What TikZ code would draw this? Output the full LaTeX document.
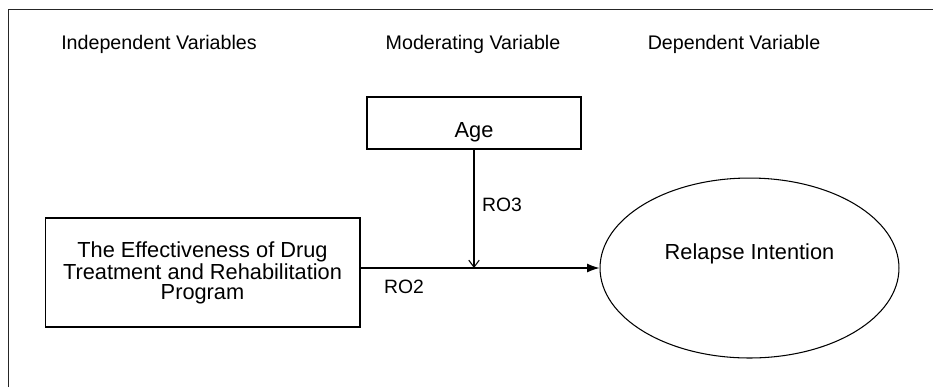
\documentclass[tikz,border=0pt]{standalone}
\usepackage{fontspec}
\setmainfont{Liberation Sans}
\usetikzlibrary{arrows.meta,shapes.geometric}

\begin{document}
\begin{tikzpicture}[x=0.02cm, y=-0.02cm,
		heading/.style={font=\fontsize{11.2}{13}\selectfont},
		rolabel/.style={font=\fontsize{11}{13}\selectfont},
		varbox/.style={draw, line width=0.6pt, font=\fontsize{12.4}{11.2}\selectfont, align=center, inner sep=0pt},
		link/.style={line width=0.6pt}]
			%%%%% START %%%%%
			
			\useasboundingbox (0, 0) rectangle (933, 387);
			\draw[line width=0.9pt, color=black!85] (8.5, 387) -- (8.5, 9.5) -- (933, 9.5);
			
			\node[heading] (indep) at (159, 44) {Independent Variables};
			\node[heading] (moder) at (473, 44) {Moderating Variable};
			\node[heading] (dep) at (734, 44) {Dependent Variable};
			
			\node[varbox, minimum width=4.28cm, minimum height=1.04cm, label={[yshift=-0.18cm, font=\fontsize{12.4}{11}\selectfont]center:Age}] (age) at (474, 123) {};
			\node[varbox, minimum width=6.3cm, minimum height=2.18cm] (program) at (202.5, 272.5) {The Effectiveness of Drug\\Treatment and Rehabilitation\\Program};
			\node[varbox, ellipse, minimum width=5.98cm, minimum height=3.6cm, label={[yshift=0.28cm, font=\fontsize{12.4}{11}\selectfont]center:Relapse Intention}] (relapse) at (749.5, 268) {};
			
			\coordinate (start) at (program.east |- relapse.west);
			\coordinate (meet) at (age.south |- relapse.west);
			\draw[link, -{Latex[length=7pt, width=5pt]}] (start) -- (relapse.west);
			\draw[link, -{Straight Barb[length=4pt, width=6pt]}] (age.south) -- (meet);
			
			\node[rolabel] (ro3) at (502, 205) {RO3};
			\node[rolabel] (ro2) at (404, 287) {RO2};
			
			%%%%% END %%%%%
\end{tikzpicture}
\end{document}
